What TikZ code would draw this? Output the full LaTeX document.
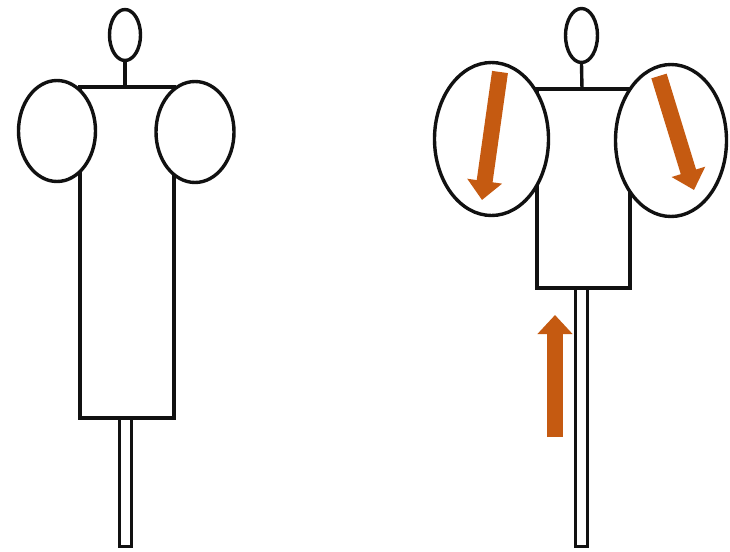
\documentclass[tikz,border=0pt]{standalone}
\usepackage{xcolor}
\usepackage{tikz}
\usetikzlibrary{shapes.geometric, arrows.meta}
\definecolor{flowOrange}{HTML}{C55A11}
\definecolor{lineBlack}{HTML}{111111}

\begin{document}
\begin{tikzpicture}[x=1pt, y=-1pt,
        outline/.style={draw=lineBlack, line width=3.4pt, fill=white},
        head/.style={ellipse, outline, inner sep=0pt},
        lobe/.style={ellipse, outline, inner sep=0pt},
        flow/.style={-{Triangle[width=34pt, length=19pt]}, line width=16pt, color=flowOrange}]

        \useasboundingbox[fill=white] (0,0) rectangle (730,551);

        % Figure 1: at rest
        \draw[outline] (119.5,418) rectangle (131.5,546.5);
        \draw[outline] (80,87) rectangle (174,418);
        \node[lobe, minimum width=77pt, minimum height=101pt] (restL) at (57,131) {};
        \node[lobe, minimum width=78pt, minimum height=101pt] (restR) at (195,132) {};
        \node[head, minimum width=31pt, minimum height=51pt] (restHead) at (125,35) {};
        \coordinate (restNeck) at (125,87);
        \draw[draw=lineBlack, line width=3.4pt] (restHead.south) -- (restNeck);

        % Figure 2: with flow
        \draw[outline] (575.5,288) rectangle (587.5,546.5);
        \draw[outline] (537,89) rectangle (630,288);
        \node[lobe, minimum width=114pt, minimum height=153pt] (flowL) at (491.5,139) {};
        \node[lobe, minimum width=111pt, minimum height=152pt] (flowR) at (671,140.5) {};
        \node[head, minimum width=32pt, minimum height=54pt] (flowHead) at (581.5,35.5) {};
        \coordinate (flowNeck) at (582,89);
        \draw[draw=lineBlack, line width=3.4pt] (flowHead.south) -- (flowNeck);

        % Arrows
        \coordinate (inTail) at (555,437);
        \coordinate (inTip) at (555,315);
        \coordinate (lTail) at (500,72);
        \coordinate (lTip) at (482,200);
        \coordinate (rTail) at (659,76);
        \coordinate (rTip) at (694,190);
        \draw[flow] (inTail) -- (inTip);
        \draw[flow] (lTail) -- (lTip);
        \draw[flow] (rTail) -- (rTip);
    \end{tikzpicture}
\end{document}
